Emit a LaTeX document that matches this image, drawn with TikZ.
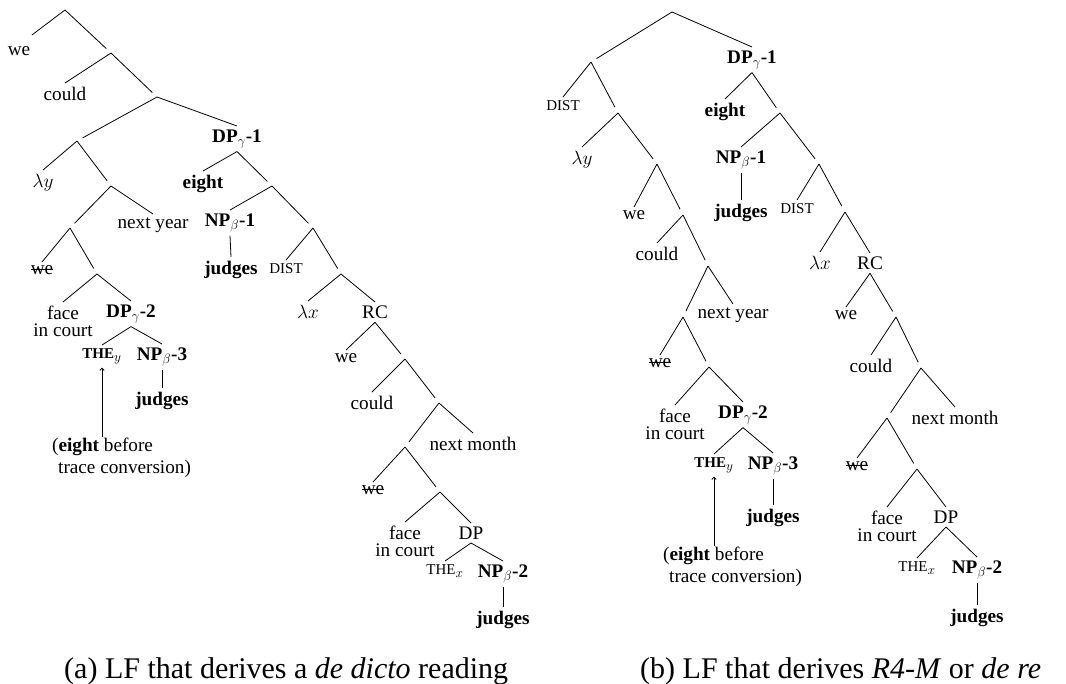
\documentclass[tikz,border=0pt]{standalone}
\usepackage{fix-cm}
\usepackage{fontspec}
\setmainfont{Liberation Serif}
\usetikzlibrary{arrows.meta}

% text sizes used in the trees
\newcommand\tf{\fontsize{19.2}{17.5}\selectfont}
\newcommand\scf[1]{{\fontsize{15}{15}\selectfont #1}}
\newcommand\bsub[3]{\textbf{#1}$_{#2}$\textbf{#3}}
% struck-out word (deleted copy)
\newsavebox\strkbox
\newcommand\strk[1]{\sbox\strkbox{#1}\rlap{\rule[0.28em]{\wd\strkbox}{0.8pt}}\usebox\strkbox}

\tikzset{
  x=1pt, y=-1pt,
  lf/.style={anchor=north, inner xsep=1.5pt, inner ysep=3.5pt, font=\tf, align=center},
  br/.style={line width=0.8pt},
  tn/.style={br, shorten >=6.5pt},
  notetext/.style={anchor=north west, inner sep=1pt, font=\fontsize{19.2}{21.5}\selectfont, align=left},
  captext/.style={anchor=base west, inner sep=0pt, font=\fontsize{30}{32}\selectfont},
  arr/.style={line width=0.8pt, -{To[length=3pt,width=5pt]}}
}

\begin{document}
\begin{tikzpicture}
\useasboundingbox (0,0) rectangle (1066,683);

% ---------------- tree (a) ----------------
\coordinate (A1) at (65,10);
\coordinate (A2) at (111,53);
\coordinate (A3) at (157,97);
\coordinate (A4) at (77,141);
\coordinate (A5) at (111,186);
\coordinate (A6) at (272,186);
\coordinate (A7) at (70,228);
\coordinate (A8) at (313,228);
\coordinate (A9) at (341,274);
\coordinate (A10) at (97,274);
\coordinate (A11) at (405,359);
\coordinate (A12) at (439,403);
\coordinate (A13) at (405,447);
\coordinate (A14) at (440,492);

\node[lf] (Awe) at (19,43) {we};
\node[lf] (Acould) at (65,83) {could};
\node[lf] (Adp1) at (237,126) {\bsub{DP}{\gamma}{-1}};
\node[lf] (Aly) at (43,170) {$\lambda y$};
\node[lf] (Aeight) at (203,171) {\textbf{eight}};
\node[lf] (Anextyear) at (153,214) {next year};
\node[lf] (Anp1) at (230,210) {\bsub{NP}{\beta}{-1}};
\node[lf] (Ajudges1) at (231,257) {\textbf{judges}};
\node[lf] (Awe2) at (42,262) {\strk{we}};
\node[lf] (Adist1) at (286,260) {\scf{DIST}};
\node[lf] (Aface1) at (63,302) {face\\in court};
\node[lf] (Adp2) at (131,301) {\bsub{DP}{\gamma}{-2}};
\node[lf] (Alx) at (308,301) {$\lambda x$};
\node[lf] (Arc) at (375,302) {RC};
\node[lf] (Athey) at (102,345) {\textbf{\scf{THE}}$_y$};
\node[lf] (Anp3) at (162,344) {\bsub{NP}{\beta}{-3}};
\node[lf] (Ajudges3) at (162,388) {\textbf{judges}};
\node[lf] (Awe3) at (346,350) {we};
\node[lf] (Acould2) at (372,392) {could};
\node[lf] (Anextmonth) at (473,433) {next month};
\node[lf] (Awe4) at (373,482) {\strk{we}};
\node[lf] (Aface2) at (405,522) {face\\in court};
\node[lf] (Adp3) at (471,523) {DP};
\node[lf] (Athex) at (445,561) {\scf{THE}$_x$};
\node[lf] (Anp2) at (503,561) {\bsub{NP}{\beta}{-2}};
\node[lf] (Ajudges2) at (503,607) {\textbf{judges}};
\node[notetext] (Anote) at (51,437) {(\textbf{eight} before\\\hspace{6pt}trace conversion)};

\draw[br] (A1) -- ([yshift=8pt]Awe.north east);
\draw[tn] (A1) -- (A2);
\draw[br] (A2) -- (Acould.north);
\draw[tn] (A2) -- (A3);
\draw[tn] (A3) -- (A4);
\draw[br] (A3) -- (Adp1.north);
\draw[br] (A4) -- (Aly.north);
\draw[tn] (A4) -- (A5);
\draw[br] (Adp1.south) -- (Aeight.north);
\draw[tn] (Adp1.south) -- (A6);
\draw[tn] (A5) -- (A7);
\draw[br] (A5) -- (Anextyear.north);
\draw[br] (A6) -- (Anp1.north);
\draw[tn] (A6) -- (A8);
\draw[br] (Anp1.south) -- (Ajudges1.north);
\draw[br] (A7) -- (Awe2.north);
\draw[tn] (A7) -- (A10);
\draw[br] (A8) -- (Adist1.north);
\draw[tn] (A8) -- (A9);
\draw[br] (A10) -- (Aface1.north);
\draw[br] (A10) -- (Adp2.north);
\draw[br] (A9) -- (Alx.north);
\draw[br] (A9) -- (Arc.north);
\draw[br] (Adp2.south) -- (Athey.north);
\draw[br] (Adp2.south) -- (Anp3.north);
\draw[br] (Anp3.south) -- (Ajudges3.north);
\draw[br] (Arc.south) -- (Awe3.north);
\draw[tn] (Arc.south) -- (A11);
\draw[br] (A11) -- (Acould2.north);
\draw[tn] (A11) -- (A12);
\draw[tn] (A12) -- (A13);
\draw[br] (A12) -- (Anextmonth.north);
\draw[br] (A13) -- (Awe4.north);
\draw[tn] (A13) -- (A14);
\draw[br] (A14) -- (Aface2.north);
\draw[br] (A14) -- (Adp3.north);
\draw[br] (Adp3.south) -- (Athex.north);
\draw[br] (Adp3.south) -- (Anp2.north);
\draw[br] (Anp2.south) -- (Ajudges2.north);
\draw[arr] (Anote.north -| Athey.south) -- (Athey.south);

% ---------------- tree (b) ----------------
\coordinate (B1) at (672,12);
\coordinate (B2) at (591,62);
\coordinate (B3) at (618,113);
\coordinate (B4) at (657,164);
\coordinate (B5) at (683,215);
\coordinate (B6) at (708,266);
\coordinate (B7) at (683,317);
\coordinate (B8) at (709,367);
\coordinate (B9) at (780,113);
\coordinate (B10) at (819,164);
\coordinate (B11) at (845,212);
\coordinate (B12) at (896,317);
\coordinate (B13) at (921,368);
\coordinate (B14) at (887,418);
\coordinate (B15) at (917,469);

\node[lf] (Bdp1) at (752,47) {\bsub{DP}{\gamma}{-1}};
\node[lf] (Bdist1) at (563,97) {\scf{DIST}};
\node[lf] (Bly) at (582,147) {$\lambda y$};
\node[lf] (Bwe1) at (634,207) {we};
\node[lf] (Bcould) at (657,243) {could};
\node[lf] (Bnextyear) at (733,304) {next year};
\node[lf] (Bwe2) at (660,355) {\strk{we}};
\node[lf] (Bface1) at (675,405) {face\\in court};
\node[lf] (Bdp2) at (743,402) {\bsub{DP}{\gamma}{-2}};
\node[lf] (Bthey) at (714,454) {\textbf{\scf{THE}}$_y$};
\node[lf] (Bnp3) at (773,453) {\bsub{NP}{\beta}{-3}};
\node[lf] (Bjudges3) at (773,505) {\textbf{judges}};
\node[notetext] (Bnote) at (662,546) {(\textbf{eight} before\\\hspace{6pt}trace conversion)};
\node[lf] (Beight) at (725,99) {\textbf{eight}};
\node[lf] (Bnp1) at (741,147) {\bsub{NP}{\beta}{-1}};
\node[lf] (Bjudges1) at (741,200) {\textbf{judges}};
\node[lf] (Bdist2) at (797,200) {\scf{DIST}};
\node[lf] (Blx) at (820,252) {$\lambda x$};
\node[lf] (Brc) at (870,253) {RC};
\node[lf] (Bwe3) at (846,307) {we};
\node[lf] (Bcould2) at (871,355) {could};
\node[lf] (Bnextmonth) at (955,407) {next month};
\node[lf] (Bwe4) at (857,458) {\strk{we}};
\node[lf] (Bface2) at (887,507) {face\\in court};
\node[lf] (Bdp3) at (946,507) {DP};
\node[lf] (Bthex) at (917,558) {\scf{THE}$_x$};
\node[lf] (Bnp2) at (977,557) {\bsub{NP}{\beta}{-2}};
\node[lf] (Bjudges2) at (977,605) {\textbf{judges}};

\draw[tn] (B1) -- (B2);
\draw[br] (B1) -- (Bdp1.north);
\draw[br] (B2) -- (Bdist1.north);
\draw[tn] (B2) -- (B3);
\draw[br] (B3) -- (Bly.north);
\draw[tn] (B3) -- (B4);
\draw[br] (B4) -- (Bwe1.north);
\draw[tn] (B4) -- (B5);
\draw[br] (B5) -- (Bcould.north);
\draw[tn] (B5) -- (B6);
\draw[tn] (B6) -- (B7);
\draw[br] (B6) -- (Bnextyear.north);
\draw[br] (B7) -- (Bwe2.north);
\draw[tn] (B7) -- (B8);
\draw[br] (B8) -- (Bface1.north);
\draw[br] (B8) -- (Bdp2.north);
\draw[br] (Bdp2.south) -- (Bthey.north);
\draw[br] (Bdp2.south) -- (Bnp3.north);
\draw[br] (Bnp3.south) -- (Bjudges3.north);
\draw[arr] (Bnote.north -| Bthey.south) -- (Bthey.south);
\draw[br] (Bdp1.south) -- (Beight.north);
\draw[tn] (Bdp1.south) -- (B9);
\draw[br] (B9) -- (Bnp1.north);
\draw[tn] (B9) -- (B10);
\draw[br] (Bnp1.south) -- (Bjudges1.north);
\draw[br] (B10) -- (Bdist2.north);
\draw[tn] (B10) -- (B11);
\draw[br] (B11) -- (Blx.north);
\draw[br] (B11) -- (Brc.north);
\draw[br] (Brc.south) -- (Bwe3.north);
\draw[tn] (Brc.south) -- (B12);
\draw[br] (B12) -- (Bcould2.north);
\draw[tn] (B12) -- (B13);
\draw[tn] (B13) -- (B14);
\draw[br] (B13) -- (Bnextmonth.north);
\draw[br] (B14) -- (Bwe4.north);
\draw[tn] (B14) -- (B15);
\draw[br] (B15) -- (Bface2.north);
\draw[br] (B15) -- (Bdp3.north);
\draw[br] (Bdp3.south) -- (Bthex.north);
\draw[br] (Bdp3.south) -- (Bnp2.north);
\draw[br] (Bnp2.south) -- (Bjudges2.north);

% ---------------- captions ----------------
\node[captext] (capa) at (64,678) {(a) LF that derives a \textit{de dicto} reading};
\node[captext] (capb) at (640,678) {(b) LF that derives \textit{R4-M} or \textit{de re}};
\end{tikzpicture}
\end{document}
